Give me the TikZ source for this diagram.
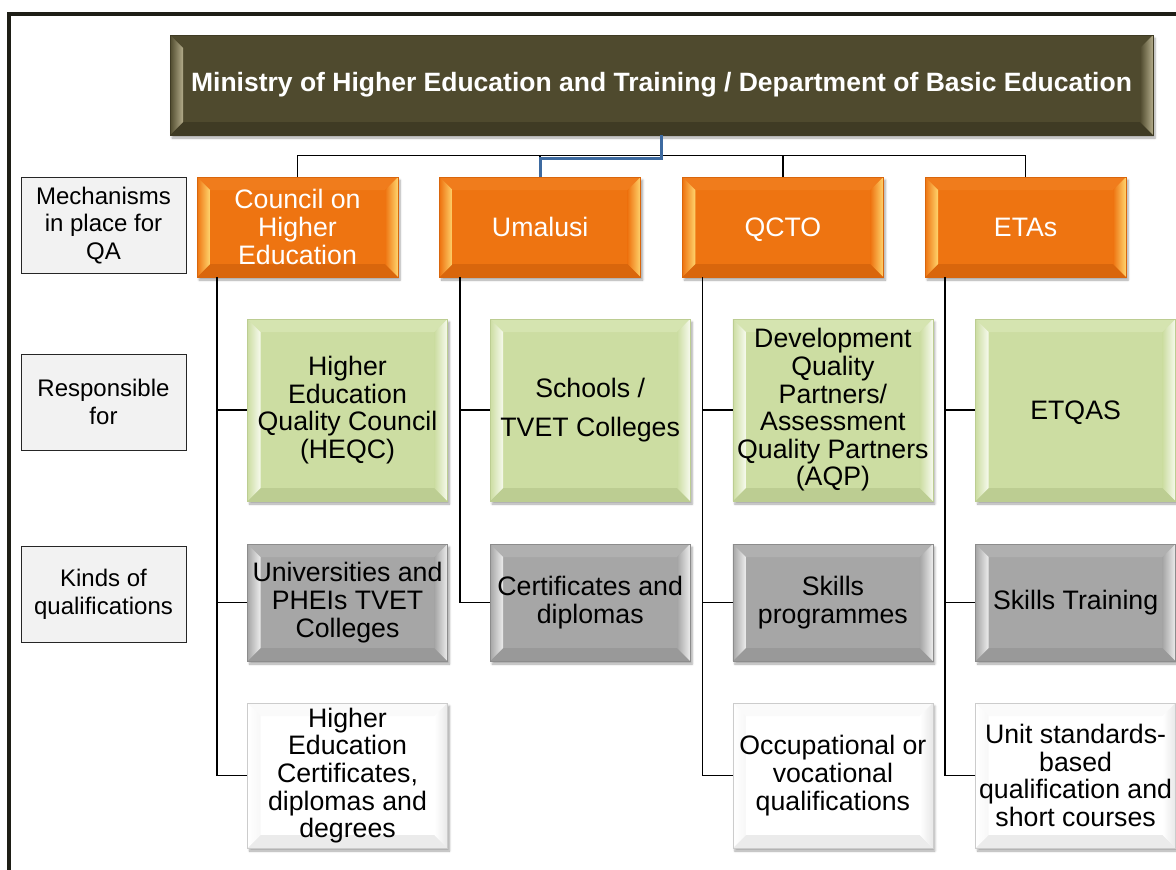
\documentclass[tikz,border=0pt]{standalone}
\usepackage{fontspec}
\setmainfont{Liberation Sans}
\usetikzlibrary{positioning,shadows.blur}

\definecolor{frameline}{HTML}{1E1E16}
\definecolor{olive}{HTML}{4F4A2E}
\definecolor{olivelt}{HTML}{B3AC8A}
\definecolor{olivedk}{HTML}{3F3B24}
\definecolor{qaorange}{HTML}{EE7411}
\definecolor{qaorangelt}{HTML}{FFD56E}
\definecolor{qaorangetop}{HTML}{F07C1C}
\definecolor{qaorangedk}{HTML}{D9660C}
\definecolor{respgreen}{HTML}{CCDDA2}
\definecolor{respgreenlt}{HTML}{F7FAEE}
\definecolor{respgreentop}{HTML}{D5E4B0}
\definecolor{respgreendk}{HTML}{BCCD92}
\definecolor{qualgray}{HTML}{A6A6A6}
\definecolor{qualgraylt}{HTML}{EDEDED}
\definecolor{qualgraytop}{HTML}{B0B0B0}
\definecolor{qualgraydk}{HTML}{999999}
\definecolor{labelgray}{HTML}{F2F2F2}
\definecolor{hilite}{HTML}{3D6AA0}

\newcommand{\bodyfont}{\fontsize{26.7}{27.6}\selectfont}

\tikzset{
  % bevelled face: face, inner light, outer light, top strip, bottom strip
  bevel/.style n args={5}{
    fill=#1,
    path picture={
      \coordinate (bv-a) at (path picture bounding box.north west);
      \coordinate (bv-b) at (path picture bounding box.north east);
      \coordinate (bv-c) at (path picture bounding box.south east);
      \coordinate (bv-d) at (path picture bounding box.south west);
      \coordinate (bv-A) at ([shift={(13pt,-13pt)}]bv-a);
      \coordinate (bv-B) at ([shift={(-13pt,-13pt)}]bv-b);
      \coordinate (bv-C) at ([shift={(-13pt,13pt)}]bv-c);
      \coordinate (bv-D) at ([shift={(13pt,13pt)}]bv-d);
      \fill[#4] (bv-a) -- (bv-b) -- (bv-B) -- (bv-A) -- cycle;
      \fill[#5] (bv-d) -- (bv-c) -- (bv-C) -- (bv-D) -- cycle;
      \shade[left color=#1, right color=#2] (bv-a) -- (bv-A) -- (bv-D) -- (bv-d) -- cycle;
      \shade[left color=#1, right color=#3] (bv-B) -- (bv-b) -- (bv-c) -- (bv-C) -- cycle;
    }
  },
  card/.style={rectangle, inner sep=0pt, align=center, line width=0.8pt,
    blur shadow={shadow xshift=2pt, shadow yshift=-3pt, shadow blur steps=6, shadow opacity=35}},
  titlebox/.style={card, draw=olivedk, minimum width=983pt, minimum height=100pt,
    bevel={olive}{olivelt}{olivelt}{olive}{olivedk},
    text=white, font=\fontsize{26.5}{30}\selectfont\bfseries},
  qabox/.style={card, draw=qaorangedk, minimum width=201pt, minimum height=100pt,
    bevel={qaorange}{qaorangelt}{qaorangelt}{qaorangetop}{qaorangedk},
    text=white, font=\bodyfont},
  respbox/.style={card, draw=respgreendk, minimum width=200pt, minimum height=182pt,
    bevel={respgreen}{respgreenlt}{respgreenlt}{respgreentop}{respgreendk}, font=\bodyfont},
  qualbox/.style={card, draw=black!45, minimum width=200pt, minimum height=117pt,
    bevel={qualgray}{qualgraylt}{qualgraylt}{qualgraytop}{qualgraydk}, font=\bodyfont},
  certbox/.style={card, draw=black!20, minimum width=200pt, minimum height=145pt,
    bevel={white}{black!3}{black!9}{black!2}{black!8}, font=\bodyfont},
  rowlabel/.style={rectangle, inner sep=0pt, align=center, draw=black!85, line width=0.8pt,
    fill=labelgray, minimum width=165pt, minimum height=96pt,
    font=\fontsize{24}{27.5}\selectfont},
  link/.style={draw=black, line width=1.6pt},
  hilink/.style={draw=hilite, line width=3pt}
}

\begin{document}
\begin{tikzpicture}[x=1pt, y=1pt, node distance=242.7pt, on grid]
  \useasboundingbox (0,0) rectangle (1176,-870);

  % outer frame
  \draw[frameline, line width=4pt] (9,-880) |- (1185,-14);

  % row captions
  \node[rowlabel] (mech) at (103.5,-225.5) {Mechanisms\\in place for\\QA};
  \node[rowlabel, below=176.5pt of mech] (resp) {Responsible\\for};
  \node[rowlabel, below=192.5pt of resp] (kinds) {Kinds of\\qualifications};

  % top level
  \node[titlebox] (ministry) at (661.5,-85)
    {Ministry of Higher Education and Training / Department of Basic Education};

  % quality assurance bodies
  \node[qabox] (che) at (297.5,-227) {Council on\\Higher\\Education};
  \node[qabox, right=of che] (umalusi) {Umalusi};
  \node[qabox, right=of umalusi, text depth=0pt] (qcto) {QCTO};
  \node[qabox, right=of qcto] (etas) {ETAs};

  % responsible for
  \node[respbox, below right=183pt and 50pt of che] (heqc)
    {Higher\\Education\\Quality Council\\(HEQC)};
  \node[respbox, below right=183pt and 50pt of umalusi] (schools)
    {Schools /\\[11pt]TVET Colleges};
  \node[respbox, below right=183pt and 50pt of qcto] (dqp)
    {Development\\Quality\\Partners/\\Assessment\\Quality Partners\\(AQP)};
  \node[respbox, below right=183pt and 50pt of etas, text depth=0pt] (etqas) {ETQAS};

  % kinds of qualifications
  \node[qualbox, below=192.5pt of heqc] (univ) {Universities and\\PHEIs TVET\\Colleges};
  \node[qualbox, below=192.5pt of schools] (certdip) {Certificates and\\diplomas};
  \node[qualbox, below=192.5pt of dqp] (skillprog) {Skills\\programmes};
  \node[qualbox, below=192.5pt of etqas] (skilltrain) {Skills Training};

  \node[certbox, below=173pt of univ] (hecert)
    {Higher\\Education\\Certificates,\\diplomas and\\degrees};
  \node[certbox, below=173pt of skillprog] (occvoc)
    {Occupational or\\vocational\\qualifications};
  \node[certbox, below=173pt of skilltrain] (unitstd)
    {Unit standards-\\based\\qualification and\\short courses};

  % bus from the ministry
  \coordinate (bus) at ([yshift=-20pt]ministry.south);
  \draw[link] (ministry.south) -- (bus);
  \draw[link] (che.north) |- (etas.north |- bus) -- (etas.north);
  \draw[link] (umalusi.north) -- (umalusi.north |- bus);
  \draw[link] (qcto.north) -- (qcto.north |- bus);
  \draw[hilink] (ministry.south) -- ++(0,-23) -| (umalusi.north);

  % spines down each column
  \coordinate (che-spine) at ([xshift=20.5pt]che.south west);
  \coordinate (umalusi-spine) at ([xshift=20.5pt]umalusi.south west);
  \coordinate (qcto-spine) at ([xshift=20.5pt]qcto.south west);
  \coordinate (etas-spine) at ([xshift=20.5pt]etas.south west);

  \draw[link] (che-spine) |- (hecert.west);
  \draw[link] (che-spine |- heqc.west) -- (heqc.west);
  \draw[link] (che-spine |- univ.west) -- (univ.west);

  \draw[link] (umalusi-spine) |- (certdip.west);
  \draw[link] (umalusi-spine |- schools.west) -- (schools.west);

  \draw[link] (qcto-spine) |- (occvoc.west);
  \draw[link] (qcto-spine |- dqp.west) -- (dqp.west);
  \draw[link] (qcto-spine |- skillprog.west) -- (skillprog.west);

  \draw[link] (etas-spine) |- (unitstd.west);
  \draw[link] (etas-spine |- etqas.west) -- (etqas.west);
  \draw[link] (etas-spine |- skilltrain.west) -- (skilltrain.west);
\end{tikzpicture}
\end{document}
